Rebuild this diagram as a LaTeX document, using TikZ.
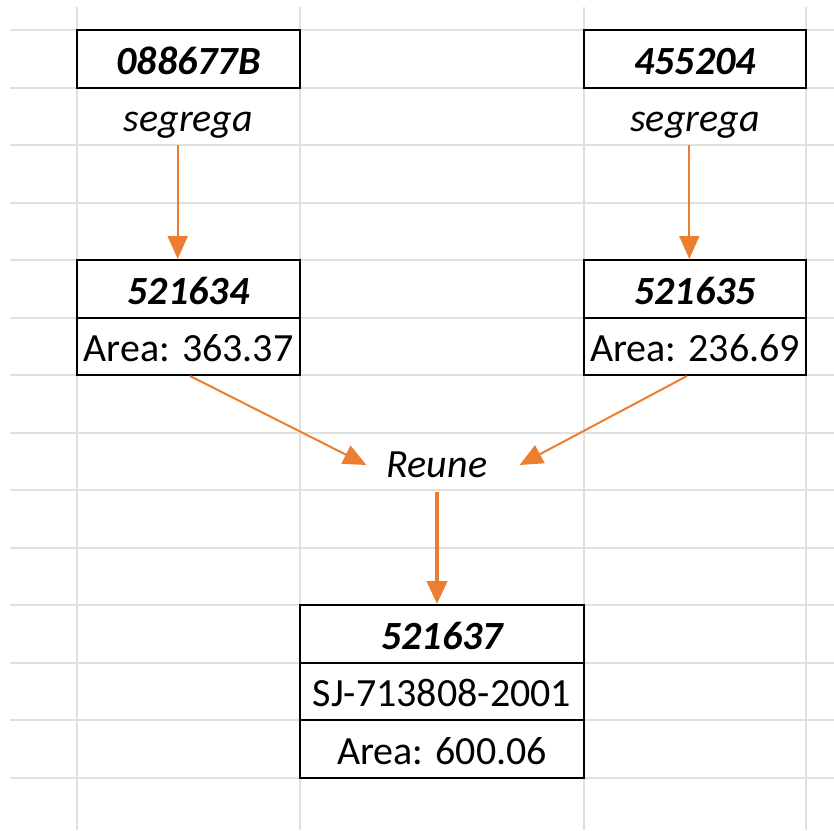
\documentclass[tikz,border=0pt]{standalone}
\usepackage{fontspec}
\setmainfont{Carlito}
\usetikzlibrary{positioning,calc,arrows,arrows.meta}
\definecolor{xlorange}{RGB}{237,125,49}
\definecolor{xlgrid}{RGB}{224,224,224}

\begin{document}
\begin{tikzpicture}[x=0.5pt, y=-0.5pt]
	\begin{scope}
		\tikzstyle{every node}=[align=center, inner sep=0pt, font=\fontsize{20}{24}\selectfont]
		\tikzstyle{blank}=[minimum height=28.75pt, text height=18pt, text depth=2.75pt]
		\tikzstyle{cell}=[blank, draw=black, line width=1pt]
		\tikzstyle{idtext}=[font=\fontsize{20}{24}\selectfont\bfseries\itshape]
		\tikzstyle{optext}=[font=\fontsize{20}{24}\selectfont\itshape]
		\tikzstyle{flow}=[xlorange, line width=1pt, -{Triangle[length=11.5pt, width=10pt]}]

		% sheet grid
		\useasboundingbox (0,0) rectangle (834,830);
		\foreach \y in {30,87.5,...,780}
			\draw [xlgrid, line width=1pt] (10,\y) -- (834,\y);
		\foreach \x in {77,300,584,806}
			\draw [xlgrid, line width=1pt] (\x,7) -- (\x,830);

		\node [cell, idtext, minimum width=111.5pt] (old1)  at (188.5, 58.75)  {088677B};
		\node [blank, optext, minimum width=111.5pt] (seg1) at (188.5, 116.25) {segrega};
		\node [cell, idtext, minimum width=111.5pt] (lot1)  at (188.5, 288.75) {521634};
		\node [cell, minimum width=111.5pt]         (area1) at (188.5, 346.25) {Area: 363.37};

		\node [cell, idtext, minimum width=111pt] (old2)  at (695, 58.75)  {455204};
		\node [blank, optext, minimum width=111pt] (seg2) at (695, 116.25) {segrega};
		\node [cell, idtext, minimum width=111pt] (lot2)  at (695, 288.75) {521635};
		\node [cell, minimum width=111pt]         (area2) at (695, 346.25) {Area: 236.69};

		\node [optext] (reune) at (437, 465) {Reune};

		\node [cell, idtext, minimum width=142pt] (new)     at (442, 633.75) {521637};
		\node [cell, minimum width=142pt]         (newsj)   at (442, 691.25) {SJ-713808-2001};
		\node [cell, minimum width=142pt]         (newarea) at (442, 748.75) {Area: 600.06};

		\draw [flow] ([xshift=-5.4pt]seg1.south) to ([xshift=-5.4pt]lot1.north);
		\draw [flow] ([xshift=-2.85pt]seg2.south) to ([xshift=-2.85pt]lot2.north);

		\draw [flow] ([xshift=0.75pt]area1.south) to ([xshift=-10pt]reune.west);
		\draw [flow] ([xshift=-4pt]area2.south) to ([xshift=16pt]reune.east);

		\draw [flow, line width=2.2pt] ([yshift=-7pt]reune.south) to (reune.south |- new.north);
	\end{scope}
\end{tikzpicture}
\end{document}
